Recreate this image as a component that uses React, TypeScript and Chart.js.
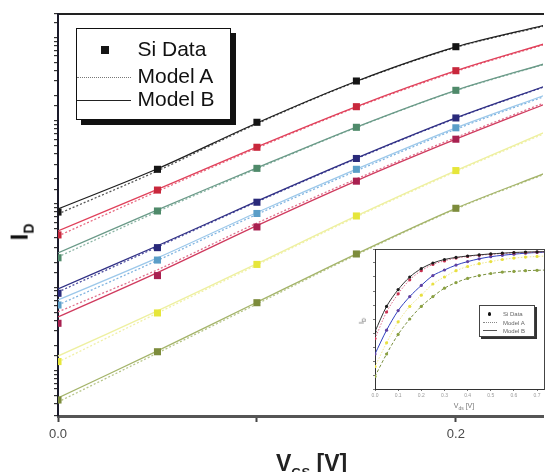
import { useEffect, useRef } from 'react';
import { Chart, registerables } from 'chart.js';

Chart.register(...registerables);

// ---------- main plot data ----------
const vgsData = [0, 0.05, 0.1, 0.15, 0.2];
const vgsModel = [0, 0.05, 0.1, 0.15, 0.2, 0.245];
const xTickValues = [0, 0.1, 0.2];
const xTickLabels = ['0.0', '', '0.2'];
const legendLabels = ['Si Data', 'Model A', 'Model B'];

const siBlack = [8.0e-7, 2.61e-6, 9.58e-6, 3.0e-5, 7.75e-5];
const siRed = [4.25e-7, 1.47e-6, 4.8e-6, 1.475e-5, 3.99e-5];
const siTeal = [2.26e-7, 8.24e-7, 2.68e-6, 8.34e-6, 2.32e-5];
const siNavy = [8.46e-8, 2.99e-7, 1.05e-6, 3.52e-6, 1.08e-5];
const siLightBlue = [6.12e-8, 2.12e-7, 7.69e-7, 2.61e-6, 8.23e-6];
const siCrimson = [3.69e-8, 1.38e-7, 5.3e-7, 1.88e-6, 6.0e-6];
const siYellow = [1.28e-8, 4.91e-8, 1.88e-7, 7.18e-7, 2.52e-6];
const siOlive = [4.42e-9, 1.68e-8, 6.52e-8, 2.51e-7, 8.88e-7];

const modelBBlack = [8.71e-7, 2.65e-6, 9.4e-6, 2.98e-5, 7.7e-5, 1.41e-4];
const modelBRed = [4.74e-7, 1.5e-6, 4.85e-6, 1.48e-5, 3.99e-5, 8.47e-5];
const modelBTeal = [2.58e-7, 8.5e-7, 2.72e-6, 8.4e-6, 2.32e-5, 4.87e-5];
const modelBNavy = [9.53e-8, 3.15e-7, 1.08e-6, 3.55e-6, 1.08e-5, 2.61e-5];
const modelBLightBlue = [7.03e-8, 2.25e-7, 7.9e-7, 2.62e-6, 8.2e-6, 2.04e-5];
const modelBCrimson = [4.39e-8, 1.5e-7, 5.5e-7, 1.9e-6, 6.0e-6, 1.59e-5];
const modelBYellow = [1.49e-8, 5.2e-8, 1.92e-7, 7.2e-7, 2.52e-6, 7.33e-6];
const modelBOlive = [4.67e-9, 1.72e-8, 6.6e-8, 2.52e-7, 8.88e-7, 2.35e-6];

const modelABlack = [7.59e-7, 2.5e-6, 9.2e-6, 2.95e-5, 7.6e-5, 1.38e-4];
const modelARed = [4.13e-7, 1.42e-6, 4.7e-6, 1.45e-5, 3.9e-5, 8.3e-5];
const modelATeal = [2.31e-7, 8.1e-7, 2.65e-6, 8.3e-6, 2.3e-5, 4.8e-5];
const modelANavy = [8.77e-8, 3.05e-7, 1.06e-6, 3.5e-6, 1.07e-5, 2.58e-5];
const modelALightBlue = [6.12e-8, 2.1e-7, 7.5e-7, 2.5e-6, 7.9e-6, 1.98e-5];
const modelACrimson = [5.05e-8, 1.62e-7, 5.9e-7, 2.0e-6, 6.3e-6, 1.66e-5];
const modelAYellow = [1.26e-8, 4.9e-8, 1.85e-7, 7.0e-7, 2.45e-6, 7.1e-6];
const modelAOlive = [4.18e-9, 1.62e-8, 6.3e-8, 2.45e-7, 8.7e-7, 2.3e-6];

const series = [
  { si: siBlack, a: modelABlack, b: modelBBlack, marker: '#151515', line: '#1e1e1e', lineA: '#555555' },
  { si: siRed, a: modelARed, b: modelBRed, marker: '#c8283c', line: '#e0405a', lineA: '#e86a80' },
  { si: siTeal, a: modelATeal, b: modelBTeal, marker: '#4f8a6a', line: '#6a9a88', lineA: '#8ab4a4' },
  { si: siNavy, a: modelANavy, b: modelBNavy, marker: '#2a2a7a', line: '#303085', lineA: '#5050a0' },
  { si: siLightBlue, a: modelALightBlue, b: modelBLightBlue, marker: '#5a9ec8', line: '#9cc8ea', lineA: '#80b4e0' },
  { si: siCrimson, a: modelACrimson, b: modelBCrimson, marker: '#a82050', line: '#d03a5e', lineA: '#e0708c' },
  { si: siYellow, a: modelAYellow, b: modelBYellow, marker: '#e6e63a', line: '#eef0a0', lineA: '#f0f0a8' },
  { si: siOlive, a: modelAOlive, b: modelBOlive, marker: '#7d8c3c', line: '#a4b46a', lineA: '#b8c68a' },
];

// ---------- inset data ----------
const insetVds = [0, 0.05, 0.1, 0.15, 0.2, 0.25, 0.3, 0.35, 0.4, 0.45, 0.5, 0.55, 0.6, 0.65, 0.7, 0.75];
const insetXTicks = ['0.0', '0.1', '0.2', '0.3', '0.4', '0.5', '0.6', '0.7'];
const insetBlack = [0.41, 0.59, 0.71, 0.8, 0.86, 0.9, 0.925, 0.94, 0.95, 0.958, 0.965, 0.97, 0.975, 0.978, 0.98, 0.982];
const insetRed = [0.36, 0.55, 0.68, 0.78, 0.845, 0.89, 0.915, 0.935, 0.947, 0.955, 0.962, 0.968, 0.972, 0.975, 0.978, 0.98];
const insetNavy = [0.25, 0.42, 0.56, 0.66, 0.74, 0.81, 0.85, 0.885, 0.91, 0.93, 0.945, 0.955, 0.963, 0.97, 0.975, 0.978];
const insetYellow = [0.16, 0.33, 0.48, 0.59, 0.67, 0.75, 0.8, 0.845, 0.875, 0.895, 0.91, 0.925, 0.935, 0.942, 0.947, 0.95];
const insetGreen = [0.09, 0.25, 0.39, 0.5, 0.59, 0.66, 0.72, 0.76, 0.79, 0.81, 0.825, 0.835, 0.84, 0.845, 0.848, 0.85];

const insetSeries = [
  { v: insetBlack, marker: '#1a1a1a', line: '#333333', dash: [] as number[] },
  { v: insetRed, marker: '#c83050', line: '#e07090', dash: [1.5, 1.5] },
  { v: insetNavy, marker: '#6040a0', line: '#3040c0', dash: [] as number[] },
  { v: insetYellow, marker: '#e8e040', line: '#f0e890', dash: [1.5, 1.5] },
  { v: insetGreen, marker: '#8aa040', line: '#7a9040', dash: [3, 2] },
];

const FONT = '"Liberation Sans", Arial, Helvetica, sans-serif';

const insetBg = {
  id: 'insetBg',
  beforeDraw(chart: any) {
    const { ctx, chartArea } = chart;
    ctx.save();
    ctx.fillStyle = '#ffffff';
    ctx.fillRect(chartArea.left, chartArea.top, chartArea.right - chartArea.left, chartArea.bottom - chartArea.top);
    ctx.restore();
  },
};

export default function App() {
  const mainRef = useRef<HTMLCanvasElement>(null);
  const insetRef = useRef<HTMLCanvasElement>(null);

  useEffect(() => {
    Chart.defaults.font.family = FONT;
    const datasets: any[] = [];
    series.forEach((s) => {
      datasets.push({
        data: vgsData.map((x, i) => ({ x, y: s.si[i] })),
        showLine: false,
        pointStyle: 'rect',
        pointRadius: 5,
        pointBackgroundColor: s.marker,
        pointBorderColor: s.marker,
        pointBorderWidth: 0,
        order: 0,
      });
      datasets.push({
        data: vgsModel.map((x, i) => ({ x, y: s.a[i] })),
        borderColor: s.lineA,
        borderWidth: 1.3,
        borderDash: [2, 2],
        pointRadius: 0,
        tension: 0.3,
        order: 2,
      });
      datasets.push({
        data: vgsModel.map((x, i) => ({ x, y: s.b[i] })),
        borderColor: s.line,
        borderWidth: 1.3,
        pointRadius: 0,
        tension: 0.3,
        order: 1,
      });
    });

    const main = new Chart(mainRef.current as HTMLCanvasElement, {
      type: 'line',
      data: { datasets },
      options: {
        animation: false,
        responsive: false,
        events: [],
        layout: { padding: { top: 14, left: 0, right: 0, bottom: 0 } },
        plugins: { legend: { display: false }, tooltip: { enabled: false } },
        scales: {
          x: {
            type: 'linear',
            position: 'bottom',
            min: 0,
            max: 0.2438,
            afterBuildTicks: (scale: any) => {
              scale.ticks = xTickValues.map((v) => ({ value: v }));
            },
            afterFit: (scale: any) => {
              scale.height = 56;
            },
            ticks: {
              callback: (_v: any, i: number) => xTickLabels[i],
              font: { size: 13, family: FONT },
              color: '#4a4a4a',
              padding: 5,
              maxRotation: 0,
            },
            grid: { drawOnChartArea: false, drawTicks: true, tickLength: 6, tickWidth: 2, color: '#444' },
            border: { display: true, color: '#555', width: 3 },
          },
          xTop: {
            type: 'linear',
            position: 'top',
            axis: 'x',
            min: 0,
            max: 0.2438,
            afterFit: (scale: any) => {
              scale.height = 0;
            },
            ticks: { display: false },
            grid: { drawOnChartArea: false, drawTicks: false },
            border: { display: true, color: '#222', width: 2 },
          },
          y: {
            type: 'logarithmic',
            position: 'left',
            min: 2.84e-9,
            max: 1.915e-4,
            afterFit: (scale: any) => {
              scale.width = 58;
            },
            ticks: { display: false },
            grid: { drawOnChartArea: false, drawTicks: true, tickLength: 4, color: '#333', lineWidth: 1.2 },
            border: { display: true, color: '#1a1a2a', width: 2 },
          },
        },
      } as any,
    });

    const insetDatasets: any[] = [];
    insetSeries.forEach((s) => {
      insetDatasets.push({
        data: insetVds.map((x, i) => ({ x, y: s.v[i] })),
        showLine: false,
        pointStyle: 'circle',
        pointRadius: 1.6,
        pointBackgroundColor: s.marker,
        pointBorderWidth: 0,
        order: 0,
      });
      insetDatasets.push({
        data: insetVds.map((x, i) => ({ x, y: s.v[i] })),
        borderColor: s.line,
        borderWidth: 1,
        borderDash: s.dash,
        pointRadius: 0,
        tension: 0.3,
        order: 1,
      });
    });

    const inset = new Chart(insetRef.current as HTMLCanvasElement, {
      type: 'line',
      data: { datasets: insetDatasets },
      plugins: [insetBg],
      options: {
        animation: false,
        responsive: false,
        events: [],
        layout: { padding: { top: 5, right: 3, left: 0, bottom: 0 } },
        plugins: { legend: { display: false }, tooltip: { enabled: false } },
        scales: {
          x: {
            type: 'linear',
            position: 'bottom',
            min: 0,
            max: 0.73,
            afterBuildTicks: (scale: any) => {
              scale.ticks = insetXTicks.map((_t, i) => ({ value: i * 0.1 }));
            },
            afterFit: (scale: any) => {
              scale.height = 27;
            },
            ticks: {
              callback: (_v: any, i: number) => insetXTicks[i],
              font: { size: 5, family: FONT },
              color: '#999',
              padding: 2,
              maxRotation: 0,
            },
            grid: { drawOnChartArea: false, tickLength: 2, color: '#777' },
            border: { display: true, color: '#333', width: 1 },
          },
          xTop: {
            type: 'linear',
            position: 'top',
            axis: 'x',
            min: 0,
            max: 0.73,
            afterFit: (scale: any) => {
              scale.height = 0;
            },
            ticks: { display: false },
            grid: { drawOnChartArea: false, drawTicks: false },
            border: { display: true, color: '#444', width: 1 },
          },
          y: {
            type: 'linear',
            position: 'left',
            min: 0,
            max: 1,
            afterFit: (scale: any) => {
              scale.width = 23;
            },
            ticks: { display: false, stepSize: 0.1 },
            grid: { drawOnChartArea: false, tickLength: 2, color: '#777' },
            border: { display: true, color: '#333', width: 1 },
          },
          yRight: {
            type: 'linear',
            position: 'right',
            axis: 'y',
            min: 0,
            max: 1,
            afterFit: (scale: any) => {
              scale.width = 0;
            },
            ticks: { display: false },
            grid: { drawOnChartArea: false, drawTicks: false },
            border: { display: true, color: '#444', width: 1 },
          },
        },
      } as any,
    });

    return () => {
      main.destroy();
      inset.destroy();
    };
  }, []);

  const rowTops = [7.5, 34.5, 58];
  const insetRowTops = [4, 12.5, 20.5];

  return (
    <div
      style={{
        position: 'fixed',
        left: 0,
        top: 0,
        width: 548,
        height: 472,
        background: '#fff',
        overflow: 'hidden',
        fontFamily: FONT,
      }}
    >
      <canvas ref={mainRef} width={548} height={472} style={{ position: 'absolute', left: 0, top: 0 }} />
      <canvas ref={insetRef} width={196} height={172} style={{ position: 'absolute', left: 352, top: 244 }} />

      {/* main legend */}
      <div
        style={{
          position: 'absolute',
          left: 76,
          top: 28,
          width: 155,
          height: 92,
          boxSizing: 'border-box',
          border: '1.5px solid #111',
          background: '#fff',
          boxShadow: '5px 5px 0 #111',
        }}
      >
        <div style={{ position: 'absolute', left: 24, top: 17, width: 8, height: 8, background: '#151515' }} />
        <div style={{ position: 'absolute', left: 0, top: 47.5, width: 54, borderTop: '1.5px dotted #777' }} />
        <div style={{ position: 'absolute', left: 0, top: 70.5, width: 54, borderTop: '1.2px solid #222' }} />
        {legendLabels.map((t, i) => (
          <div
            key={t}
            style={{
              position: 'absolute',
              left: 60.5,
              top: rowTops[i],
              fontSize: 21,
              lineHeight: '24px',
              color: '#111',
              whiteSpace: 'nowrap',
            }}
          >
            {t}
          </div>
        ))}
      </div>

      {/* y axis title */}
      <div
        style={{
          position: 'absolute',
          left: 24,
          top: 232,
          transform: 'translate(-50%, -50%) rotate(-90deg)',
          fontSize: 24,
          fontWeight: 'bold',
          color: '#111',
          whiteSpace: 'nowrap',
          lineHeight: '26px',
        }}
      >
        I<sub style={{ fontSize: 14 }}>D</sub>
      </div>

      {/* x axis title */}
      <div
        style={{
          position: 'absolute',
          left: 276,
          top: 452,
          fontSize: 23,
          fontWeight: 'bold',
          color: '#222',
          whiteSpace: 'nowrap',
          lineHeight: '23px',
        }}
      >
        V<sub style={{ fontSize: 13 }}>GS</sub> [V]
      </div>

      {/* inset legend */}
      <div
        style={{
          position: 'absolute',
          left: 479,
          top: 305,
          width: 56,
          height: 32,
          boxSizing: 'border-box',
          border: '1px solid #444',
          background: '#fff',
          boxShadow: '2px 2px 0 #333',
        }}
      >
        <div
          style={{ position: 'absolute', left: 7.5, top: 6, width: 3.5, height: 3.5, borderRadius: 2, background: '#111' }}
        />
        <div style={{ position: 'absolute', left: 3, top: 15.5, width: 14, borderTop: '1px dotted #888' }} />
        <div style={{ position: 'absolute', left: 3, top: 24, width: 14, borderTop: '1px solid #555' }} />
        {legendLabels.map((t, i) => (
          <div
            key={t}
            style={{
              position: 'absolute',
              left: 23,
              top: insetRowTops[i],
              fontSize: 6,
              lineHeight: '8px',
              color: '#666',
              whiteSpace: 'nowrap',
            }}
          >
            {t}
          </div>
        ))}
      </div>

      {/* inset axis titles */}
      <div
        style={{
          position: 'absolute',
          left: 464,
          top: 407,
          transform: 'translate(-50%, -50%)',
          fontSize: 7,
          color: '#777',
          whiteSpace: 'nowrap',
          lineHeight: '8px',
        }}
      >
        V<sub style={{ fontSize: 5 }}>ds</sub> [V]
      </div>
      <div
        style={{
          position: 'absolute',
          left: 363,
          top: 321,
          transform: 'translate(-50%, -50%) rotate(-90deg)',
          fontSize: 7,
          color: '#555',
          whiteSpace: 'nowrap',
          lineHeight: '8px',
        }}
      >
        I<sub style={{ fontSize: 5 }}>D</sub>
      </div>
    </div>
  );
}
